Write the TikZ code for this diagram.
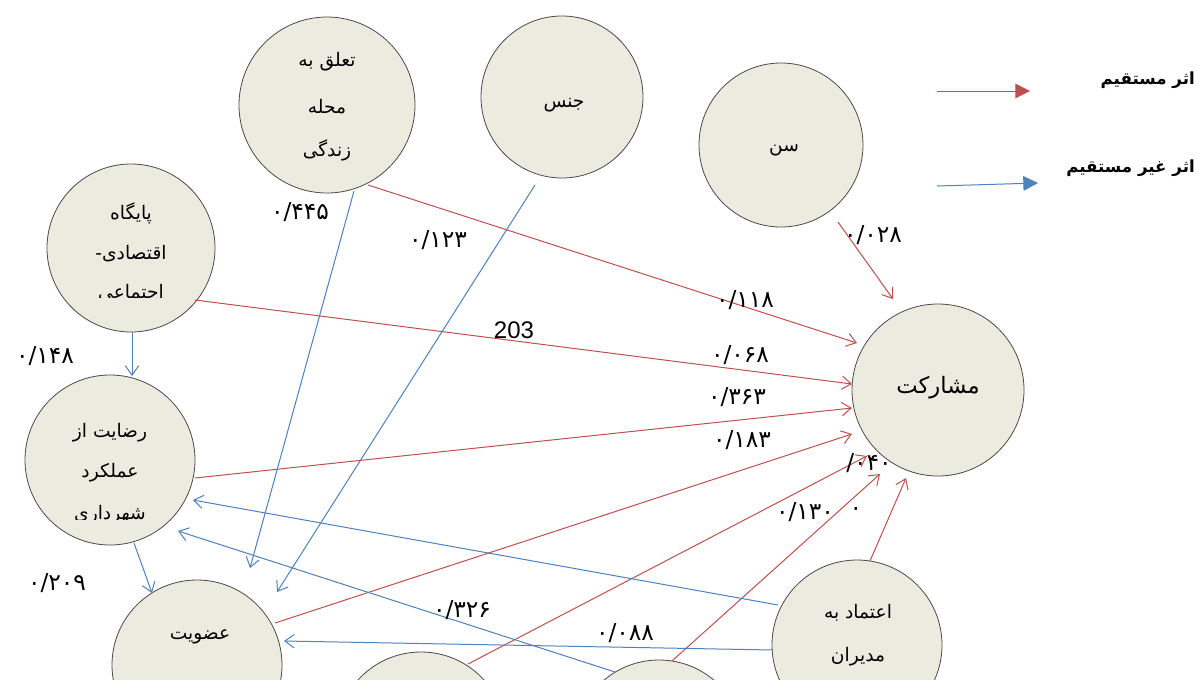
\documentclass[tikz,border=0pt]{standalone}
\usepackage{fontspec}
\usetikzlibrary{arrows.meta,calc}
\TeXXeTstate=1
\newfontfamily\ar[Script=Arabic]{DejaVu Sans}
\newfontfamily\lat{Liberation Sans}
\definecolor{circfill}{HTML}{ECEBE0}
\definecolor{circdraw}{HTML}{4A4A4A}
\definecolor{redl}{HTML}{C0504D}
\definecolor{bluel}{HTML}{4F81BD}
\begin{document}
\begin{tikzpicture}[x=0.75pt,y=-0.75pt,
  var/.style={circle,draw=circdraw,fill=circfill,line width=0.6pt,inner sep=0pt},
  ctext/.style={font=\ar\fontsize{14}{16}\selectfont,inner sep=0pt},
  bigtext/.style={font=\ar\fontsize{17}{19}\selectfont,inner sep=0pt},
  lbl/.style={font=\ar\fontsize{17.5}{19}\selectfont,inner sep=0pt},
  legtext/.style={font=\ar\bfseries\fontsize{12.5}{14}\selectfont,inner sep=0pt,anchor=east},
  direct/.style={draw=redl,line width=0.75pt,-{Straight Barb[length=7pt,width=10pt]}},
  indirect/.style={draw=bluel,line width=0.75pt,-{Straight Barb[length=7pt,width=10pt]}},
]
\useasboundingbox (0,0) rectangle (1199,679);
\fill[white] (0,0) rectangle (1199,679);

% circles
\node[var,minimum size=132pt] (tal) at (327,105) {};
\node[var,minimum size=121.5pt] (jen) at (562,97) {};
\node[var,minimum size=123pt] (sen) at (781,145) {};
\node[var,minimum size=126pt] (pay) at (131,248) {};
\node[var,minimum size=127.5pt] (rez) at (110,460) {};
\node[var,minimum size=129pt] (mos) at (938,390) {};
\node[var,minimum size=127.5pt] (ozv) at (197,665) {};
\node[var,minimum size=127.5pt] (bo1) at (421,737) {};
\node[var,minimum size=127.5pt] (bo2) at (659,745) {};
\node[var,minimum size=127.5pt] (etm) at (857,645) {};

% circle texts
\node[ctext] (tal1) at (327,62) {\beginR تعلق به\endR};
\node[ctext] (tal2) at (327,107) {\beginR محله\endR};
\begin{scope}
\clip (250,130) rectangle (400,161);
\node[ctext] (tal3) at (327,150) {\beginR زندگی\endR};
\end{scope}
\node[ctext] (jen1) at (564,105) {\beginR جنس\endR};
\node[ctext] (sen1) at (784,150) {\beginR سن\endR};
\node[ctext] (pay1) at (131,213) {\beginR پایگاه\endR};
\node[ctext] (pay2) at (131,254) {\beginR اقتصادی-\endR};
\begin{scope}
\clip (60,275) rectangle (200,297);
\node[ctext] (pay3) at (131,293) {\beginR اجتماعی\endR};
\end{scope}
\node[ctext] (rez1) at (110,433) {\beginR رضایت از\endR};
\node[ctext] (rez2) at (110,473) {\beginR عملکرد\endR};
\begin{scope}
\clip (40,497) rectangle (180,519);
\node[ctext] (rez3) at (110,515) {\beginR شهرداری\endR};
\end{scope}
\node[bigtext] (mos1) at (938,388) {\beginR مشارکت\endR};
\node[ctext] (ozv1) at (200,637) {\beginR عضویت\endR};
\node[ctext] (etm1) at (858,613) {\beginR اعتماد به\endR};
\node[ctext] (etm2) at (858,657) {\beginR مدیران\endR};

% direct effects
\draw[direct] ($(tal)+(41,80)$) -- ($(mos)+(-81,-47)$);
\draw[direct] ($(pay)+(64,52)$) -- ($(mos)+(-86,-6)$);
\draw[direct] ($(rez)+(85,18)$) -- ($(mos)+(-86,18)$);
\draw[direct] ($(ozv)+(78,-42)$) -- ($(mos)+(-86,44)$);
\draw[direct] ($(bo1)+(47,-73)$) -- ($(mos)+(-71,66)$);
\draw[direct] ($(bo2)+(13,-84)$) -- ($(mos)+(-58,84)$);
\draw[direct] ($(etm)+(13,-84)$) -- ($(mos)+(-32,88)$);
\draw[direct] ($(sen)+(57,77)$) -- ($(mos)+(-45,-91)$);

% indirect effects
\draw[indirect] ($(pay)+(1,84)$) -- ($(rez)+(22,-84)$);
\draw[indirect] ($(tal)+(27,86)$) -- ($(ozv)+(53,-97)$);
\draw[indirect] ($(jen)+(-27,88)$) -- ($(ozv)+(80,-73)$);
\draw[indirect] ($(rez)+(24,83)$) -- ($(ozv)+(-45,-72)$);
\draw[indirect] ($(etm)+(-79,-40)$) -- ($(rez)+(83,40)$);
\draw[indirect] ($(bo2)+(-44,-73)$) -- ($(rez)+(68,71)$);
\draw[indirect] ($(etm)+(-84,5)$) -- ($(ozv)+(87,-24)$);

% labels
\node[lbl] (c445) at (300,212) {۰/۴۴۵};
\node[lbl] (c123) at (438,240) {۰/۱۲۳};
\node[lbl] (c028) at (873,235) {۰/۰۲۸};
\node[lbl] (c118) at (745,300) {۰/۱۱۸};
\node[font=\lat\fontsize{18}{20}\selectfont,inner sep=0pt] (c203) at (514,330) {203};
\node[lbl] (c148) at (45,356) {۰/۱۴۸};
\node[lbl] (c068) at (740,355) {۰/۰۶۸};
\node[lbl] (c363) at (737,397) {۰/۳۶۳};
\node[lbl] (c183) at (742,440) {۰/۱۸۳};
\node[lbl] (c040) at (869,463) {\mbox{/}\mbox{۰۴۰}};
\node[lbl] (c130) at (805,512) {۰/۱۳۰};
\node[lbl] (c0) at (856,512) {۰};
\node[lbl] (c209) at (57,583) {۰/۲۰۹};
\node[lbl] (c326) at (462,610) {۰/۳۲۶};
\node[lbl] (c088) at (625,633) {۰/۰۸۸};

% legend
\coordinate (la1) at (937,91);
\coordinate (la2) at (1030,91);
\coordinate (lb1) at (937,186);
\coordinate (lb2) at (1038,183);
\draw[redl,line width=0.75pt,-{Triangle[length=11pt,width=11pt]}] (la1) -- (la2);
\draw[bluel,line width=0.75pt,-{Triangle[length=11pt,width=11pt]}] (lb1) -- (lb2);
\node[legtext] (lega) at (1195,80) {\beginR اثر مستقیم\endR};
\node[legtext] (legb) at (1195,168) {\beginR اثر غیر مستقیم\endR};
\end{tikzpicture}
\end{document}
